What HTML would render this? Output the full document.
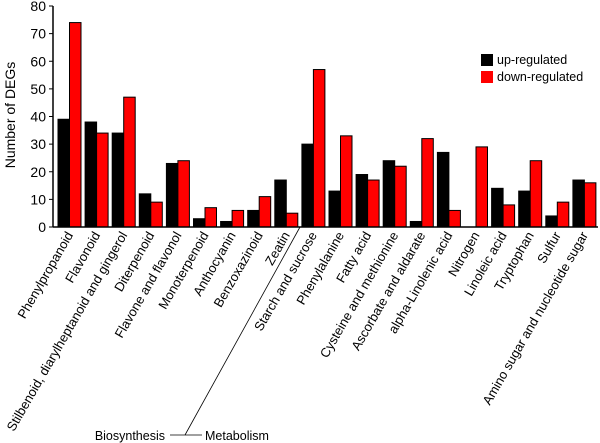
<!DOCTYPE html>
<html><head><meta charset="utf-8"><style>
body{margin:0;background:#fff}
svg{display:block;font-family:"Liberation Sans",Arial,sans-serif}
</style></head><body>
<svg id="chart" width="600" height="443">
<g id="marks"></g>
</svg>
<script>
const categories=["Phenylpropanoid","Flavonoid","Stilbenoid, diarylheptanoid and gingerol","Diterpenoid","Flavone and flavonol","Monoterpenoid","Anthocyanin","Benzoxazinoid","Zeatin","Starch and sucrose","Phenylalanine","Fatty acid","Cysteine and methionine","Ascorbate and aldarate","alpha-Linolenic acid","Nitrogen","Linoleic acid","Tryptophan","Sulfur","Amino sugar and nucleotide sugar"];
const upValues=[39,38,34,12,23,3,2,6,17,30,13,19,24,2,27,0,14,13,4,17];
const downValues=[74,34,47,9,24,7,6,11,5,57,33,17,22,32,6,29,8,24,9,16];
const yTicks=[0,10,20,30,40,50,60,70,80];
const NS="http://www.w3.org/2000/svg";
const svg=document.getElementById('chart');
const X0=53,Y0=227,Y1=6,YMAX=80,PITCH=27.1;
function y(v){return Y0-(v/YMAX)*(Y0-Y1);}
function gx(i){return X0+i*PITCH;}
function mk(tag,attrs){const e=document.createElementNS(NS,tag);for(const k in attrs)e.setAttribute(k,attrs[k]);svg.appendChild(e);return e;}
categories.forEach((c,i)=>{
  let b=mk('rect',{x:gx(i)+5,y:y(upValues[i]),width:11.5,height:Y0-y(upValues[i]),fill:'#000',stroke:'#000','stroke-width':1});
  
  
  let r=mk('rect',{x:gx(i)+16.5,y:y(downValues[i]),width:11.5,height:Y0-y(downValues[i]),fill:'#ff0000',stroke:'#000','stroke-width':1});
  
  
  let cx=gx(i)+16.5;
  let t=mk('text',{x:0,y:0,'text-anchor':'end','font-size':13,transform:`translate(${cx+4},${Y0+8}) rotate(-60)`});
  t.textContent=c;
  
  
});
let ax=mk('line',{x1:X0,y1:Y0,x2:598,y2:Y0,stroke:'#000','stroke-width':1.5});


let ay=mk('line',{x1:X0,y1:Y1,x2:X0,y2:Y0,stroke:'#000','stroke-width':1.5});


yTicks.forEach(v=>{
  let tk=mk('line',{x1:X0-4,y1:y(v),x2:X0,y2:y(v),stroke:'#000'});
  
  
  let t=mk('text',{x:X0-7,y:y(v)+5,'text-anchor':'end','font-size':14});
  t.textContent=v;
  
  
});
</script>
<svg style="position:absolute;left:0;top:0" width="600" height="443">
<text x="15" y="115" font-size="14" text-anchor="middle" transform="rotate(-90 15 115)" font-family="Liberation Sans, sans-serif">Number of DEGs</text>
<rect x="481" y="54" width="12" height="12" fill="#000"/>
<text x="497" y="64" font-size="12.5" font-family="Liberation Sans, sans-serif">up-regulated</text>
<rect x="481" y="71" width="12" height="12" fill="#ff0000"/>
<text x="497" y="81" font-size="12.5" font-family="Liberation Sans, sans-serif">down-regulated</text>
<line x1="300" y1="227" x2="185" y2="435" stroke="#000" stroke-width="0.8"/>
<line x1="170" y1="435" x2="202" y2="435" stroke="#000" stroke-width="0.8"/>
<text x="165" y="440" font-size="12.5" text-anchor="end" font-family="Liberation Sans, sans-serif">Biosynthesis</text>
<text x="205" y="440" font-size="12.5" font-family="Liberation Sans, sans-serif">Metabolism</text>
</svg>
</body></html>
